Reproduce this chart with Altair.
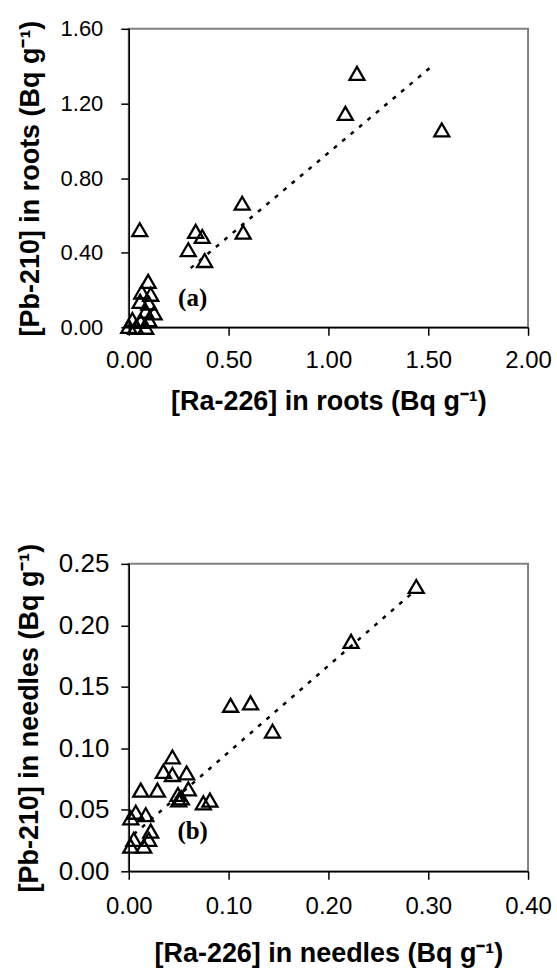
import altair as alt
import pandas as pd

# ---- Panel (a): roots ----
ra_roots = [1.143, 1.085, 1.568, 0.568, 0.573, 0.335, 0.368, 0.298, 0.380, 0.055,
            0.097, 0.065, 0.110, 0.057, 0.100, 0.085, 0.127, 0.018, 0.060, 0.100,
            0.000, 0.035, 0.085]
pb_roots = [1.361, 1.147, 1.058, 0.665, 0.510, 0.514, 0.487, 0.416, 0.358, 0.523,
            0.246, 0.189, 0.177, 0.139, 0.130, 0.086, 0.077, 0.041, 0.032, 0.041,
            0.005, 0.000, 0.000]
trend_roots_x = [0.31, 1.53]
trend_roots_y = [0.317, 1.41]

# ---- Panel (b): needles ----
ra_needles = [0.288, 0.2227, 0.122, 0.102, 0.144, 0.0437, 0.0347, 0.0437, 0.058, 0.0597,
              0.0493, 0.0527, 0.0287, 0.012, 0.0813, 0.0747, 0.007, 0.017, 0.002, 0.022,
              0.005, 0.020, 0.002, 0.015, 0.050]
pb_needles = [0.2316, 0.187, 0.137, 0.135, 0.1139, 0.093, 0.0813, 0.0787, 0.080, 0.067,
              0.0625, 0.0597, 0.066, 0.066, 0.0579, 0.0557, 0.048, 0.046, 0.0435, 0.0327,
              0.026, 0.026, 0.0205, 0.0205, 0.058]
trend_needles_x = [0.005, 0.285]
trend_needles_y = [0.030, 0.227]

x_ticks_a = [0.0, 0.5, 1.0, 1.5, 2.0]
y_ticks_a = [0.0, 0.4, 0.8, 1.2, 1.6]
x_ticks_b = [0.0, 0.1, 0.2, 0.3, 0.4]
y_ticks_b = [0.0, 0.05, 0.10, 0.15, 0.20, 0.25]

SANS = "Liberation Sans, Arial, Helvetica, sans-serif"
SERIF = "Liberation Serif, Times New Roman, serif"


def panel(ra, pb, tx, ty, label, label_x, label_y, xdom, ydom, xticks, yticks,
          xtitle, ytitle, h, xlab_size, ylab_size, ylab_pad, ytitle_pad,
          xlab_pad, xtitle_pad):
    pts = pd.DataFrame({"ra": ra, "pb": pb})
    trend = pd.DataFrame({"ra": tx, "pb": ty})
    lab = pd.DataFrame({"ra": [label_x], "pb": [label_y], "t": [label]})

    x = alt.X("ra:Q",
              scale=alt.Scale(domain=xdom, nice=False, zero=False),
              axis=alt.Axis(values=xticks, format=".2f", title=xtitle, grid=False,
                            labelFont=SANS, labelFontSize=xlab_size, labelColor="black",
                            titleFont=SANS, titleFontSize=27, titleFontWeight="bold",
                            titleColor="black", domainColor="black", domainWidth=1.5,
                            tickColor="black", tickWidth=1.5, tickSize=8,
                            labelPadding=xlab_pad, titlePadding=xtitle_pad, labelFlush=False))
    y = alt.Y("pb:Q",
              scale=alt.Scale(domain=ydom, nice=False, zero=False),
              axis=alt.Axis(values=yticks, format=".2f", title=ytitle, grid=False,
                            labelFont=SANS, labelFontSize=ylab_size, labelColor="black",
                            titleFont=SANS, titleFontSize=27, titleFontWeight="bold",
                            titleColor="black", domainColor="black", domainWidth=1.5,
                            tickColor="black", tickWidth=1.5, tickSize=8,
                            labelPadding=ylab_pad, titlePadding=ytitle_pad, labelFlush=False))

    points = alt.Chart(pts).mark_point(shape="triangle-up", filled=False, size=225,
                                       stroke="black", strokeWidth=2.3, opacity=1).encode(x=x, y=y)
    line = alt.Chart(trend).mark_line(color="black", strokeWidth=2.5,
                                      strokeDash=[4, 7]).encode(x=x, y=y)
    text = alt.Chart(lab).mark_text(font=SERIF, fontSize=25, fontWeight="bold",
                                    color="black").encode(x=x, y=y, text="t:N")
    return alt.layer(line, points, text).properties(width=400, height=h)


top = panel(ra_roots, pb_roots, trend_roots_x, trend_roots_y, "(a)", 0.32, 0.155,
            [0, 2.0], [0, 1.6], x_ticks_a, y_ticks_a,
            "[Ra-226] in roots (Bq g⁻¹)", "[Pb-210] in roots (Bq g⁻¹)", 299,
            24, 22, 18, 16, 13, 16)
bottom = panel(ra_needles, pb_needles, trend_needles_x, trend_needles_y, "(b)", 0.064, 0.0325,
               [0, 0.4], [0, 0.25], x_ticks_b, y_ticks_b,
               "[Ra-226] in needles (Bq g⁻¹)", "[Pb-210] in needles (Bq g⁻¹)", 308,
               24, 26, 12, 15, 15, 22)

chart = alt.vconcat(top, bottom, spacing=127).properties(
    padding={"top": 16, "left": 14, "right": 4, "bottom": 4},
    background="white",
).configure_view(stroke="#808080", strokeWidth=2)

chart.save("out.html", embed_options={"renderer": "svg", "actions": False})
